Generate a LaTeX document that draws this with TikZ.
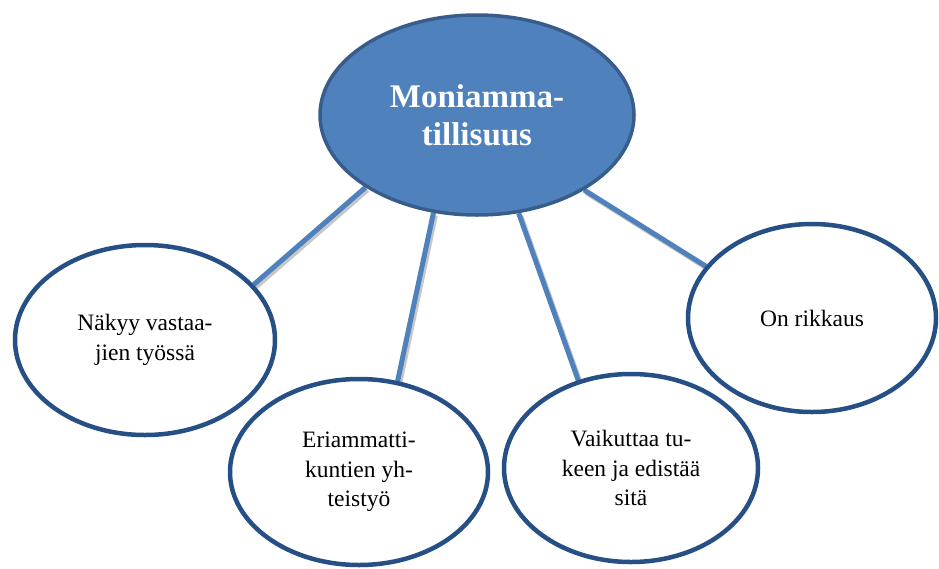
\documentclass[tikz,border=0pt]{standalone}
\usepackage{fontspec}
\setmainfont{Liberation Serif}
\usetikzlibrary{shapes.geometric,backgrounds}
\definecolor{midblue}{HTML}{4F81BD}
\definecolor{rimblue}{HTML}{385D8A}
\definecolor{darkrim}{HTML}{254F85}
\tikzset{
  hub/.style={ellipse, fill=midblue, draw=rimblue, line width=3.5pt, inner sep=0pt,
    text=white, align=center, font={\fontsize{33}{38}\selectfont\bfseries}},
  leaf/.style={ellipse, fill=white, draw=darkrim, line width=4.5pt, inner sep=0pt,
    align=center, font={\fontsize{23.5}{29.5}\selectfont}},
  link/.style={draw=midblue, line width=5pt},
  linkshadow/.style={draw=black!22, line width=5pt},
}
\begin{document}
\begin{tikzpicture}[x=1pt,y=-1pt]
\useasboundingbox (0,0) rectangle (939,568);
\node[hub, minimum width=314pt, minimum height=200pt] (c) at (477,115) {Moniamma-\\tillisuus};
\node[leaf, minimum width=260pt, minimum height=190pt] (n1) at (145,340) {Näkyy vastaa-\\jien työssä};
\node[leaf, minimum width=258pt, minimum height=186pt] (n2) at (359,472) {Eriammatti-\\kuntien yh-\\teistyö};
\node[leaf, minimum width=254pt, minimum height=188pt] (n3) at (631,468) {Vaikuttaa tu-\\keen ja edistää\\sitä};
\node[leaf, minimum width=248pt, minimum height=188pt] (n4) at (812,318) {On rikkaus};
\begin{scope}[on background layer]
  \draw[linkshadow] ([shift={(2,2.5)}]c.213.6) -- ([shift={(2,2.5)}]n1.27.8);
  \draw[linkshadow] ([shift={(2,2.5)}]c.246.7) -- ([shift={(2,2.5)}]n2.67.6);
  \draw[linkshadow] ([shift={(2,2.5)}]c.293.7) -- ([shift={(2,2.5)}]n3.121.5);
  \draw[linkshadow] ([shift={(2,2.5)}]c.325.7) -- ([shift={(2,2.5)}]n4.154.7);
  \draw[link] (c.213.6) -- (n1.27.8);
  \draw[link] (c.246.7) -- (n2.67.6);
  \draw[link] (c.293.7) -- (n3.121.5);
  \draw[link] (c.325.7) -- (n4.154.7);
\end{scope}
\end{tikzpicture}
\end{document}
